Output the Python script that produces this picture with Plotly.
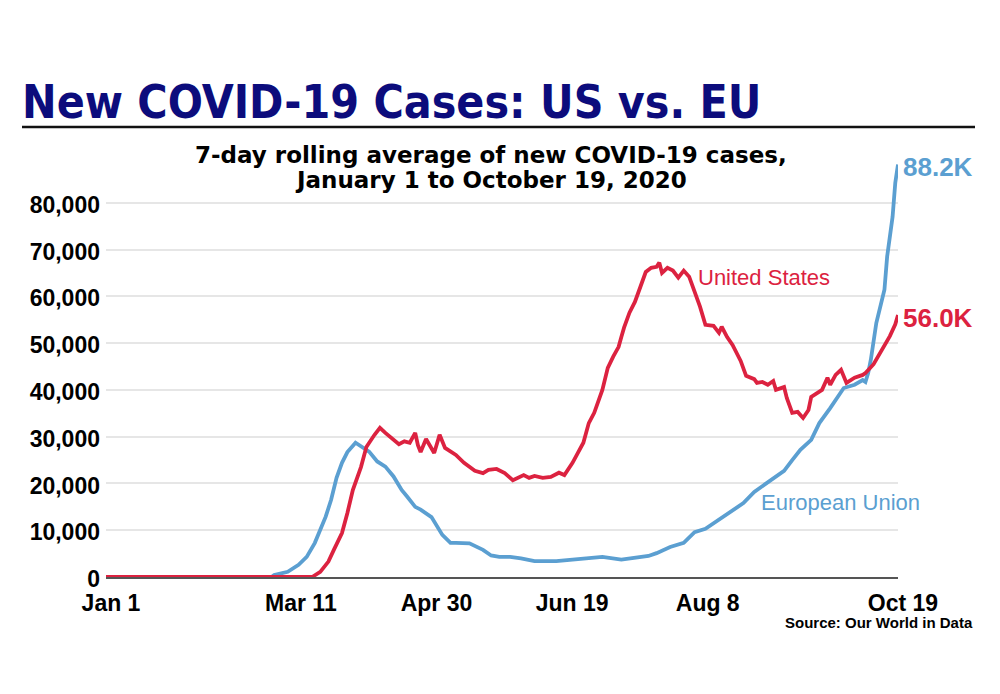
import pandas as pd
import plotly.graph_objects as go

# ---- data ----
# days since 2020-01-01
eu_day = [0, 61, 62, 67, 71, 74, 77, 79, 81, 83, 85, 87, 89, 92, 94, 97, 100, 103, 106, 109,
          111, 114, 116, 120, 124, 127, 129, 134, 139, 142, 145, 149, 153, 158, 166, 176, 183,
          190, 195, 200, 203, 208, 213, 217, 221, 226, 230, 235, 239, 245, 250, 253, 256, 260,
          263, 267, 272, 276, 279, 280, 281, 282, 283, 284, 287, 288, 290, 291, 292]
eu_cases = [0, 0, 400, 1100, 2600, 4300, 7300, 10000, 12900, 16500, 21200, 24400, 26700, 28700,
            27900, 26800, 24700, 23600, 21500, 18600, 17200, 15000, 14400, 12800, 9000, 7300,
            7300, 7200, 5800, 4600, 4300, 4300, 4000, 3400, 3400, 4000, 4300, 3700, 4000, 4500,
            5100, 6400, 7300, 9600, 10300, 12200, 13700, 15800, 18200, 20700, 22700, 25000,
            27200, 29300, 32900, 36100, 40400, 41100, 42100, 41700, 43600, 46500, 50000, 54300,
            61400, 68500, 77000, 84300, 88200]

us_day = [0, 76, 79, 82, 84, 87, 89, 91, 94, 96, 99, 101, 103, 106, 108, 110, 112, 114, 115,
          116, 118, 121, 123, 125, 129, 132, 136, 139, 141, 144, 147, 150, 152, 154, 156, 158,
          161, 164, 167, 169, 172, 176, 178, 180, 183, 185, 187, 189, 190, 191, 193, 195, 197,
          199, 201, 203, 204, 205, 207, 209, 211, 213, 215, 217, 219, 221, 223, 224, 226, 227,
          229, 231, 234, 236, 239, 240, 242, 244, 246, 247, 250, 251, 253, 255, 257, 259, 260,
          261, 263, 264, 266, 267, 269, 271, 273, 276, 279, 280, 283, 286, 289, 291, 292]
us_cases = [0, 0, 1100, 3300, 5800, 9400, 13700, 18600, 23500, 27800, 30400, 31900, 30800,
            29300, 28400, 29000, 28700, 30800, 28200, 26700, 29500, 26500, 30400, 27600, 26100,
            24400, 22700, 22200, 22900, 23100, 22200, 20700, 21200, 21800, 21200, 21600, 21200,
            21400, 22300, 21800, 24400, 28700, 32900, 35100, 40000, 44700, 47100, 49200, 51300,
            53300, 56500, 58800, 62000, 65200, 66100, 66300, 67200, 65000, 66100, 65500, 64000,
            65500, 64200, 61000, 57800, 53900, 53700, 53700, 52200, 53500, 51300, 49600, 46200,
            43000, 42300, 41500, 41700, 41100, 41900, 40000, 40600, 38300, 35100, 35300, 34000,
            35700, 38500, 38900, 39600, 40000, 42600, 41100, 43200, 44300, 41500, 42600, 43200,
            43600, 45500, 48600, 51500, 54000, 56000]

tick_labels = ["Jan 1", "Mar 11", "Apr 30", "Jun 19", "Aug 8", "Oct 19"]
tick_days = [0, 70, 120, 170, 220, 292]
y_ticks = [0, 10000, 20000, 30000, 40000, 50000, 60000, 70000, 80000]

start = pd.Timestamp("2020-01-01")
to_dates = lambda d: [start + pd.Timedelta(days=v) for v in d]
eu_x, us_x, tick_x = to_dates(eu_day), to_dates(us_day), to_dates(tick_days)

RED = "#dc2240"
BLUE = "#5b9fd1"
NAVY = "#0c0c7c"
FONT = "Liberation Sans, Arial, sans-serif"
WIDE = "DejaVu Sans, Liberation Sans, sans-serif"

# layout geometry (pixels)
W, H = 1000, 694
L, R, T, B = 106, 898, 156, 577


def px(x):
    return (x - L) / (R - L)


def py(y):
    return (B - y) / (B - T)


fig = go.Figure()
fig.add_trace(go.Scatter(x=eu_x, y=eu_cases, mode="lines", name="European Union",
                         line=dict(color=BLUE, width=3.8), hoverinfo="x+y"))
fig.add_trace(go.Scatter(x=us_x, y=us_cases, mode="lines", name="United States",
                         line=dict(color=RED, width=3.8), hoverinfo="x+y"))

fig.update_layout(
    width=W, height=H,
    margin=dict(l=L, r=W - R, t=T, b=H - B, pad=0),
    paper_bgcolor="white", plot_bgcolor="white",
    showlegend=False,
    title=dict(text="New COVID-19 Cases: US vs. EU", xref="container", yref="container",
               x=22 / W, xanchor="left", y=1 - 102 / H, yanchor="middle",
               font=dict(family="Liberation Sans Narrow, DejaVu Sans Condensed, sans-serif",
                         size=46, color=NAVY, weight="bold")),
    xaxis=dict(range=[start, tick_x[-1]], tickvals=tick_x, ticktext=tick_labels,
               showgrid=False, showline=True, linecolor="#555555", linewidth=1.5,
               ticks="", ticklabelstandoff=5, ticklabelshift=5,
               tickfont=dict(family=FONT, size=23, color="black", weight="bold"),
               zeroline=False, fixedrange=True),
    yaxis=dict(range=[0, 90000], tickvals=y_ticks, tickformat=",d",
               showgrid=True, gridcolor="#e6e6e6", gridwidth=1.5, zeroline=False,
               showline=False, ticks="", ticklabelstandoff=5, ticklabelshift=2,
               tickfont=dict(family=FONT, size=23, color="black", weight="bold"),
               fixedrange=True),
)

# rule under title
fig.add_shape(type="line", xref="paper", yref="paper", x0=px(22), x1=px(975),
              y0=py(127), y1=py(127), line=dict(color="#111111", width=2.5))

# subtitle (two lines placed individually for tight leading)
for txt, yc in [("7-day rolling average of new COVID-19 cases,", 155),
                ("January 1 to October 19, 2020", 180)]:
    fig.add_annotation(text=txt, xref="paper", yref="paper", x=px(491), y=py(yc),
                       xanchor="center", yanchor="middle", showarrow=False,
                       font=dict(family=WIDE, size=23, color="black", weight="bold"))

# series labels
fig.add_annotation(text="United States", xref="paper", yref="paper", x=px(696), y=py(277),
                   xanchor="left", yanchor="middle", showarrow=False,
                   font=dict(family=FONT, size=22, color=RED))
fig.add_annotation(text="European Union", xref="paper", yref="paper", x=px(759), y=py(502),
                   xanchor="left", yanchor="middle", showarrow=False,
                   font=dict(family=FONT, size=22, color=BLUE))

# end-value labels
for xs, ys, col in [(eu_x, eu_cases, BLUE), (us_x, us_cases, RED)]:
    fig.add_annotation(text=f"{ys[-1] / 1000:.1f}K", x=xs[-1], y=ys[-1], xanchor="left",
                       yanchor="middle", xshift=3, yshift=-3, showarrow=False,
                       font=dict(family=FONT, size=26, color=col, weight="bold"))

# source
fig.add_annotation(text="Source: Our World in Data", xref="paper", yref="paper", x=px(975),
                   y=py(622), xanchor="right", yanchor="middle", showarrow=False,
                   font=dict(family=FONT, size=15, color="black", weight="bold"))

fig.write_html("out.html")
